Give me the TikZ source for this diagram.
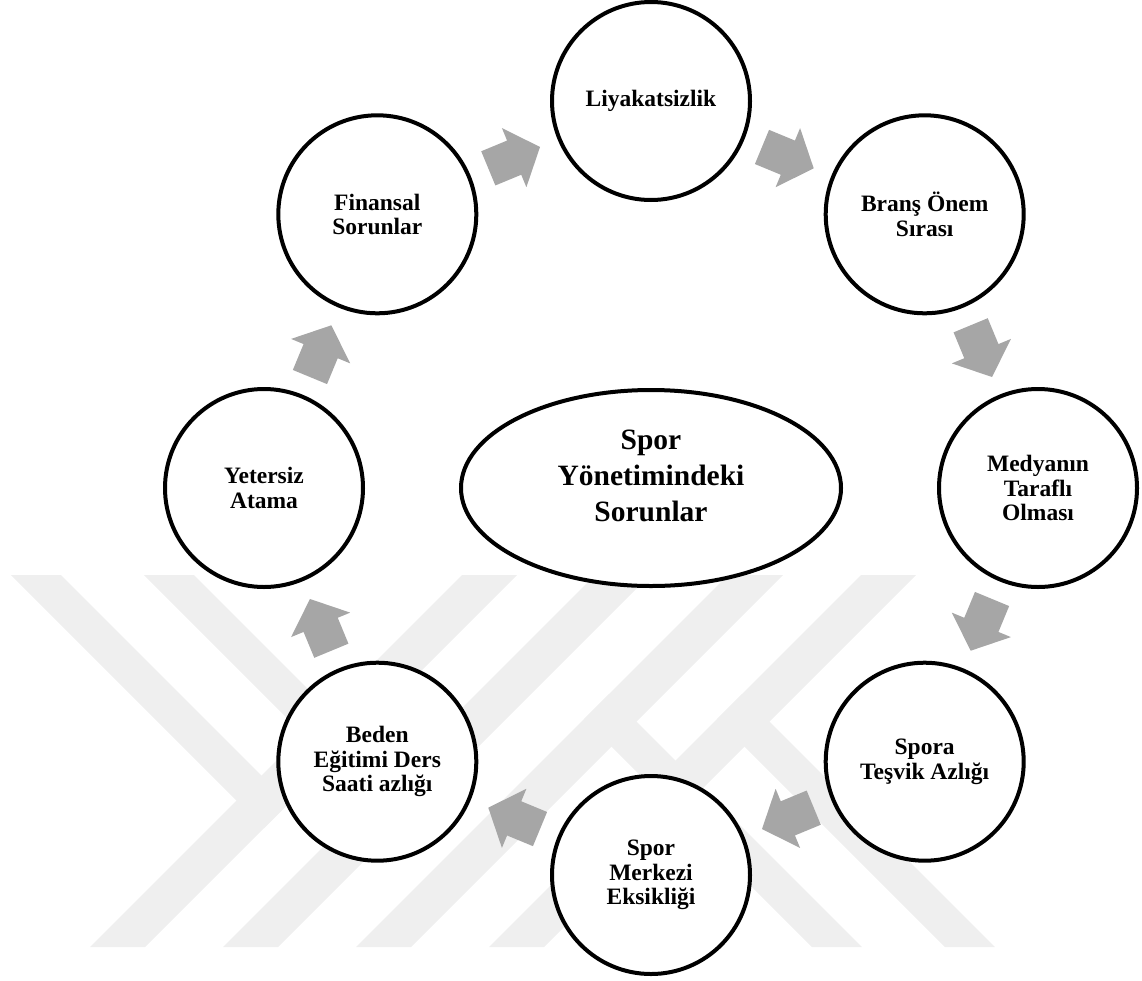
\documentclass[tikz,border=0pt]{standalone}
\usepackage{fontspec}
\setmainfont{Liberation Serif}
\usetikzlibrary{shapes.geometric,calc}
\definecolor{arrowgray}{RGB}{166,166,166}
\definecolor{wmgray}{RGB}{239,239,239}
\newcommand{\ringarrow}[2]{%
  \pgfmathanglebetweenpoints{\pgfpointanchor{#1}{center}}{\pgfpointanchor{#2}{center}}%
  \let\myarrang\pgfmathresult
  \fill[arrowgray, shift={($(#1)!0.5!(#2)$)}, rotate=\myarrang]
    (-28,-18.5) -- (0,-18.5) -- (0,-32) -- (28,0) -- (0,32) -- (0,18.5) -- (-28,18.5) -- cycle;
}
\begin{document}
\begin{tikzpicture}[x=1pt,y=-1pt,
  ringnode/.style={circle, draw=black, line width=4pt, fill=white, minimum size=198pt,
    inner sep=0pt, align=center, font=\fontsize{23.5pt}{24.5pt}\selectfont\bfseries},
  hubnode/.style={ellipse, draw=black, line width=4pt, fill=white, minimum width=380pt,
    minimum height=196pt, inner sep=0pt},
  hubtext/.style={inner sep=0pt, align=center, font=\fontsize{29.5pt}{36pt}\selectfont\bfseries},
  wm/.style={fill=wmgray, draw=none}]
\useasboundingbox (0,0) rectangle (1142,980);
% watermark
\foreach \a in {90,223,356,489}{
  \fill[wm] (\a,947) -- ({\a+55},947) -- ({\a+427},575) -- ({\a+372},575) -- cycle;
}
\fill[wm] (11,575) -- (61,575) -- (289,803) -- (264,828) -- cycle;
\fill[wm] (144,575) -- (194,575) -- (422,803) -- (397,828) -- cycle;
\fill[wm] (995,947) -- (945,947) -- (717,719) -- (742,694) -- cycle;
\fill[wm] (862,947) -- (812,947) -- (584,719) -- (609,694) -- cycle;
% nodes
\node[hubnode] (hub) at (651,488) {};
\node[hubtext] (hublabel) at (651,476) {Spor\\Yönetimindeki\\Sorunlar};
\node[ringnode] (liy) at (651,101) {Liyakatsizlik};
\node[ringnode] (bra) at (924.7,214.3) {Branş Önem\\Sırası};
\node[ringnode] (med) at (1038,488) {Medyanın\\Taraflı\\Olması};
\node[ringnode] (tes) at (924.7,761.7) {Spora\\Teşvik Azlığı};
\node[ringnode] (mer) at (651,875) {Spor\\Merkezi\\Eksikliği};
\node[ringnode] (bed) at (377.3,761.7) {Beden\\Eğitimi Ders\\Saati azlığı};
\node[ringnode] (yet) at (264,488) {Yetersiz\\Atama};
\node[ringnode] (fin) at (377.3,214.3) {Finansal\\Sorunlar};
% arrows
\ringarrow{fin}{liy}
\ringarrow{liy}{bra}
\ringarrow{bra}{med}
\ringarrow{med}{tes}
\ringarrow{tes}{mer}
\ringarrow{mer}{bed}
\ringarrow{bed}{yet}
\ringarrow{yet}{fin}
\end{tikzpicture}
\end{document}
